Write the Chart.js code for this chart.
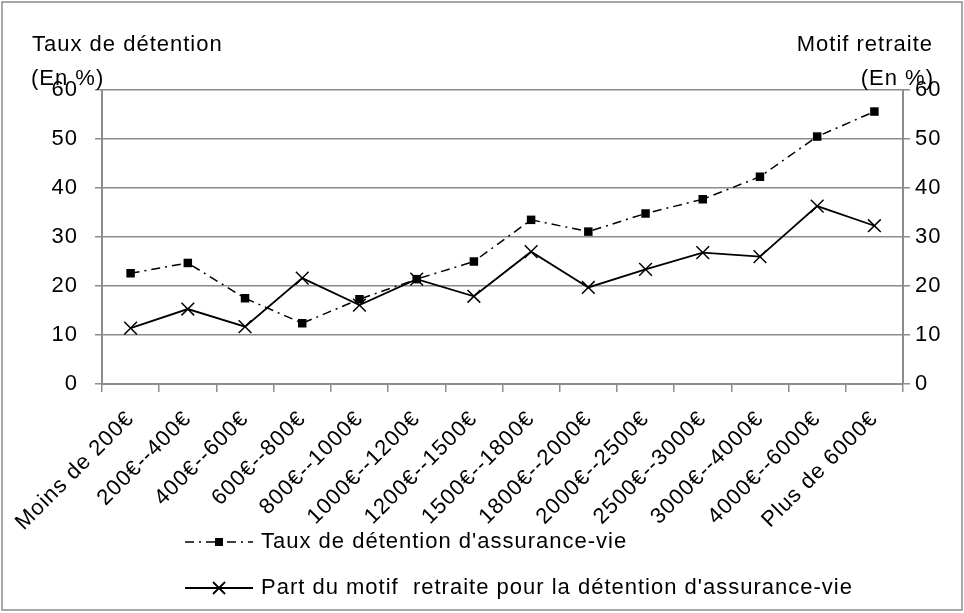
<!DOCTYPE html>
<html>
<head>
<meta charset="utf-8">
<script src="https://cdn.jsdelivr.net/npm/chart.js@4.4.1/dist/chart.umd.min.js"></script>
<style>
  html, body { margin: 0; padding: 0; background: #fff; }
  #wrap { width: 964px; height: 613px; }
</style>
</head>
<body>
<div id="wrap"><canvas id="chart" width="964" height="613"></canvas></div>
<script>
// Data
const categories = ['Moins de 200€', '200€--400€', '400€--600€', '600€--800€', '800€--1000€',
    '1000€--1200€', '1200€--1500€', '1500€--1800€', '1800€--2000€', '2000€--2500€',
    '2500€--3000€', '3000€--4000€', '4000€--6000€', 'Plus de 6000€'];
const tauxDetention = [22.6, 24.7, 17.5, 12.4, 17.3, 21.4, 25.0, 33.5, 31.1, 34.8, 37.7, 42.3, 50.5, 55.6];
const partRetraite = [11.4, 15.3, 11.7, 21.6, 16.1, 21.4, 17.9, 27.0, 19.7, 23.4, 26.8, 26.0, 36.3, 32.3];
const yTicks = [0, 10, 20, 30, 40, 50, 60];
const seriesNames = ["Taux de détention d'assurance-vie", "Part du motif  retraite pour la détention d'assurance-vie"];

const FONT = "'Liberation Sans', Arial, sans-serif";
const GRID = '#8c8c8c';
const SPACING = '1px';

// frame, axis titles and legend drawn on the canvas
const decorations = {
    id: 'decorations',
    beforeUpdate(chart) {
        chart.ctx.letterSpacing = SPACING;
    },
    beforeDraw(chart) {
        const ctx = chart.ctx;
        ctx.letterSpacing = SPACING;
        ctx.save();
        ctx.strokeStyle = GRID;
        ctx.lineWidth = 1.5;
        ctx.strokeRect(2, 2, 960, 608);
        ctx.restore();
    },
    afterDraw(chart) {
        const ctx = chart.ctx;
        ctx.save();
        ctx.letterSpacing = SPACING;
        ctx.fillStyle = '#000';
        ctx.font = '22px ' + FONT;
        ctx.textBaseline = 'middle';
        ctx.textAlign = 'left';
        ctx.fillText('Taux de détention', 32, 45);
        ctx.fillText('(En %)', 31, 79);
        ctx.textAlign = 'right';
        ctx.fillText('Motif retraite', 933, 45);
        ctx.fillText('(En %)', 934, 79);

        // legend
        const items = chart.data.datasets;
        const rows = [542, 588];
        items.forEach((ds, i) => {
            const y = rows[i];
            const x0 = 185, x1 = 253;
            ctx.strokeStyle = ds.borderColor;
            ctx.lineWidth = ds.borderWidth;
            ctx.setLineDash(ds.borderDash || []);
            ctx.beginPath();
            ctx.moveTo(x0, y);
            ctx.lineTo(x1, y);
            ctx.stroke();
            ctx.setLineDash([]);
            const cx = (x0 + x1) / 2;
            if (ds.pointStyle === 'rect') {
                ctx.fillStyle = '#000';
                ctx.fillRect(cx - 4, y - 4, 8, 8);
            } else {
                ctx.beginPath();
                ctx.moveTo(cx - 6, y - 6); ctx.lineTo(cx + 6, y + 6);
                ctx.moveTo(cx - 6, y + 6); ctx.lineTo(cx + 6, y - 6);
                ctx.stroke();
            }
            ctx.fillStyle = '#000';
            ctx.textAlign = 'left';
            ctx.fillText(ds.label, 261, y);
        });
        ctx.restore();
    }
};

new Chart(document.getElementById('chart'), {
    type: 'line',
    data: {
        labels: categories,
        datasets: [
            {
                label: seriesNames[0],
                data: tauxDetention,
                yAxisID: 'y',
                borderColor: '#000',
                backgroundColor: '#000',
                borderWidth: 1.5,
                borderDash: [9, 5, 2, 5],
                pointStyle: 'rect',
                pointRadius: 6,
                pointBorderWidth: 0,
                fill: false,
                tension: 0
            },
            {
                label: seriesNames[1],
                data: partRetraite,
                yAxisID: 'y1',
                borderColor: '#000',
                backgroundColor: '#000',
                borderWidth: 1.8,
                pointStyle: 'crossRot',
                pointRadius: 9,
                pointBorderWidth: 1.5,
                fill: false,
                tension: 0
            }
        ]
    },
    options: {
        responsive: false,
        animation: false,
        layout: { padding: { top: 90, left: 0, right: 0, bottom: 0 } },
        plugins: {
            legend: { display: false },
            tooltip: { enabled: false }
        },
        scales: {
            x: {
                offset: true,
                grid: {
                    offset: true,
                    drawOnChartArea: false,
                    color: GRID,
                    lineWidth: 1.5,
                    tickLength: 8
                },
                border: { color: GRID, width: 2 },
                ticks: {
                    autoSkip: false,
                    minRotation: 45,
                    maxRotation: 45,
                    color: '#000',
                    padding: 14,
                    font: { family: FONT, size: 22 }
                },
                afterFit(scale) { scale.height = 229; }
            },
            y: {
                position: 'left',
                min: 0,
                max: 60,
                afterBuildTicks(scale) { scale.ticks = yTicks.map(v => ({ value: v })); },
                grid: { color: GRID, lineWidth: 1.5, tickLength: 7 },
                border: { color: GRID, width: 2 },
                ticks: {
                    color: '#000',
                    padding: 17,
                    font: { family: FONT, size: 22 }
                },
                afterFit(scale) { scale.width = 102; }
            },
            y1: {
                position: 'right',
                min: 0,
                max: 60,
                afterBuildTicks(scale) { scale.ticks = yTicks.map(v => ({ value: v })); },
                grid: { drawOnChartArea: false, color: GRID, lineWidth: 1.5, tickLength: 7 },
                border: { color: GRID, width: 2 },
                ticks: {
                    color: '#000',
                    padding: 5,
                    font: { family: FONT, size: 22 }
                },
                afterFit(scale) { scale.width = 61; }
            }
        }
    },
    plugins: [decorations]
});
</script>
</body>
</html>
